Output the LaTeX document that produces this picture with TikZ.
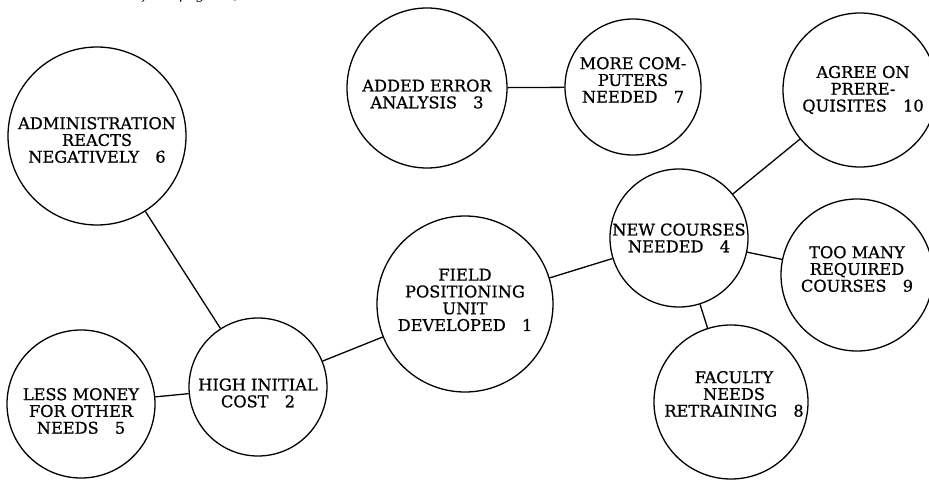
\documentclass[tikz,border=0pt]{standalone}
\usepackage{fontspec}
\setmainfont{DejaVu Serif}
\newfontfamily\eventfont{DejaVu Serif}[FakeBold=0.8]
\begin{document}
\begin{tikzpicture}[x=1pt,y=1pt,
    event/.style={circle,draw,line width=1.3pt,inner sep=0pt},
    eventtext/.style={align=center,inner sep=0pt,
        font=\eventfont\fontsize{16.2}{16.8}\selectfont},
    link/.style={line width=1.3pt}]
    \useasboundingbox (0,0) rectangle (929,483);
    \node[anchor=base east,font=\itshape\fontsize{13.5}{15}\selectfont] (note) at (242,483) {Continued from page 28,};
    % circles
    \node[event,minimum size=176pt] (field) at (465,179) {};
    \node[event,minimum size=138pt] (cost) at (258,96) {};
    \node[event,minimum size=160pt] (error) at (427,395) {};
    \node[event,minimum size=138pt] (courses) at (679,245) {};
    \node[event,minimum size=148pt] (money) at (81,79) {};
    \node[event,minimum size=178pt] (admin) at (97,347) {};
    \node[event,minimum size=136pt] (computers) at (633,396) {};
    \node[event,minimum size=154pt] (faculty) at (731,81) {};
    \node[event,minimum size=152pt] (required) at (857,208) {};
    \node[event,minimum size=154pt] (prereq) at (860,393) {};
    % texts
    \node[eventtext] (field-t) at ([yshift=4]field) {FIELD\\POSITIONING\\UNIT\\DEVELOPED\quad 1};
    \node[eventtext] (cost-t) at ([yshift=-6]cost) {HIGH INITIAL\\COST\quad 2};
    \node[eventtext] (error-t) at ([yshift=-6]error) {ADDED ERROR\\ANALYSIS\quad 3};
    \node[eventtext] (courses-t) at (courses) {NEW COURSES\\NEEDED\quad 4};
    \node[eventtext] (money-t) at ([yshift=-7]money) {LESS MONEY\\FOR OTHER\\NEEDS\quad 5};
    \node[eventtext] (admin-t) at ([yshift=-4]admin) {ADMINISTRATION\\REACTS\\NEGATIVELY\quad 6};
    \node[eventtext] (computers-t) at ([yshift=7]computers) {MORE COM-\\PUTERS\\NEEDED\quad 7};
    \node[eventtext] (faculty-t) at ([xshift=3,yshift=8]faculty) {FACULTY\\NEEDS\\RETRAINING\quad 8};
    \node[eventtext] (required-t) at ([yshift=6]required) {TOO MANY\\REQUIRED\\COURSES\quad 9};
    \node[eventtext] (prereq-t) at ([xshift=3]prereq) {AGREE ON\\PRERE-\\QUISITES\quad 10};
    % links
    \draw[link] (field) -- (cost);
    \draw[link] (field) -- (courses);
    \draw[link] (cost) -- (money);
    \draw[link] (cost) -- (admin);
    \draw[link] (error) -- (computers);
    \draw[link] (courses) -- (prereq);
    \draw[link] (courses) -- (required);
    \draw[link] (courses) -- (faculty);
\end{tikzpicture}
\end{document}
